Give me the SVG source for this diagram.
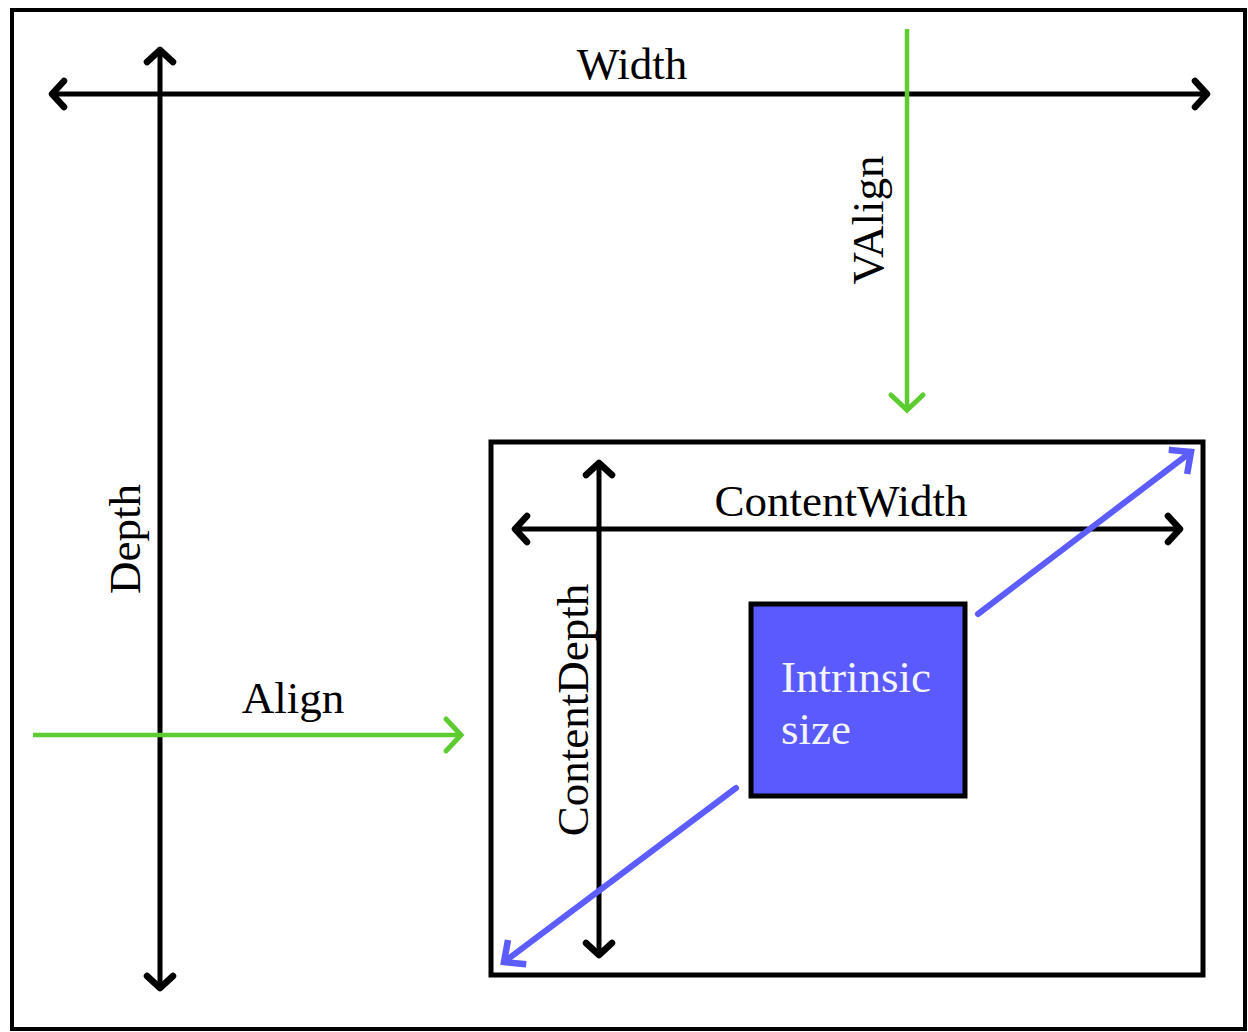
<svg xmlns="http://www.w3.org/2000/svg" width="1248" height="1032" viewBox="0 0 1248 1032">
<defs>
<style>
.lbl{font-family:"Liberation Serif","Times New Roman",serif;font-size:45px;fill:#000}
.blk{stroke:#000;stroke-width:5;fill:none}
.grn{stroke:#5ccc30;stroke-width:4.5;fill:none}
.blu{stroke:#5c5cff;stroke-width:6;fill:none;stroke-linecap:round}
</style>
<marker id="mb" markerUnits="userSpaceOnUse" viewBox="-20 -20 30 40" refX="0" refY="0" markerWidth="30" markerHeight="40" orient="auto-start-reverse">
<path d="M-12,-13 L0,0 L-12,13" fill="none" stroke="#000" stroke-width="6.5" stroke-linecap="round" stroke-linejoin="round"/>
</marker>
<marker id="mg" markerUnits="userSpaceOnUse" viewBox="-20 -20 30 40" refX="0" refY="0" markerWidth="30" markerHeight="40" orient="auto">
<path d="M-15,-16 L0,0 L-15,16" fill="none" stroke="#5ccc30" stroke-width="5" stroke-linecap="round"/>
</marker>
<marker id="mu" markerUnits="userSpaceOnUse" viewBox="-25 -25 35 50" refX="0" refY="0" markerWidth="35" markerHeight="50" orient="auto">
<path d="M-14,-13 L0,0 L-14,13" fill="none" stroke="#5c5cff" stroke-width="6.5" stroke-linecap="square"/>
</marker>
</defs>
<rect x="12" y="10" width="1233" height="1019" fill="#fff" stroke="#000" stroke-width="4"/>
<g id="inner-box"><rect x="491" y="442" width="712" height="533" fill="none" stroke="#000" stroke-width="5"/></g>
<g id="intrinsic-box">
<rect x="751" y="604" width="214" height="192" fill="#5a5aff" stroke="#000" stroke-width="5"/>
<text class="lbl" x="781" y="692" style="fill:#f4f4ff">Intrinsic</text>
<text class="lbl" x="781" y="744" style="fill:#f4f4ff">size</text>
</g>
<g id="connectors">
<line class="blk" x1="52" y1="94" x2="1207" y2="94" marker-start="url(#mb)" marker-end="url(#mb)"/>
<line class="blk" x1="160" y1="50" x2="160" y2="988" marker-start="url(#mb)" marker-end="url(#mb)"/>
<line class="grn" x1="907" y1="29" x2="907" y2="410" marker-end="url(#mg)"/>
<line class="grn" x1="33" y1="735" x2="461" y2="735" marker-end="url(#mg)"/>
<line class="blk" x1="515" y1="529" x2="1180" y2="529" marker-start="url(#mb)" marker-end="url(#mb)"/>
<line class="blk" x1="599" y1="463" x2="599" y2="955" marker-start="url(#mb)" marker-end="url(#mb)"/>
<path class="blu" d="M978,614 L1191,452" marker-end="url(#mu)"/>
<path class="blu" d="M736,788 L504,962" marker-end="url(#mu)"/>
</g>
<g id="labels">
<text class="lbl" x="632" y="79" text-anchor="middle">Width</text>
<text class="lbl" transform="translate(883,220) rotate(-90)" text-anchor="middle">VAlign</text>
<text class="lbl" transform="translate(140,539) rotate(-90)" text-anchor="middle">Depth</text>
<text class="lbl" transform="translate(588,710) rotate(-90)" text-anchor="middle">ContentDepth</text>
<text class="lbl" x="293" y="713" text-anchor="middle">Align</text>
<text class="lbl" x="841" y="516" text-anchor="middle">ContentWidth</text>
</g>
</svg>
